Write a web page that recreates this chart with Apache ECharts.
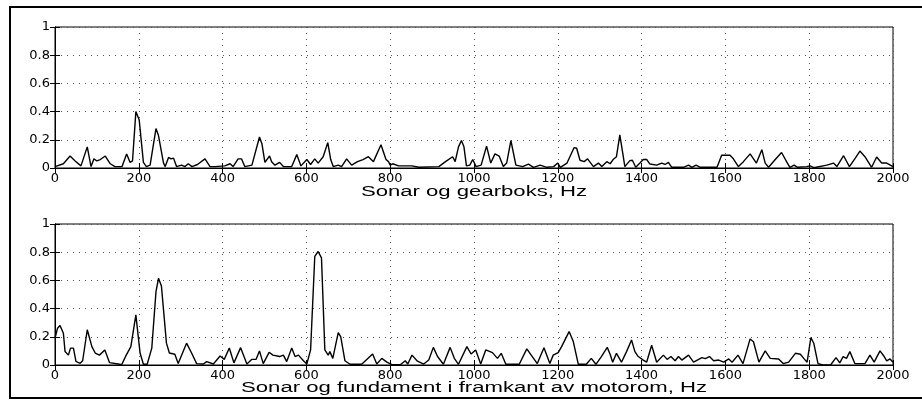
<!DOCTYPE html>
<html>
<head>
<meta charset="utf-8">
<script src="https://cdn.jsdelivr.net/npm/echarts@6/dist/echarts.min.js"></script>
<style>
    html, body { margin: 0; padding: 0; background: #fff; }
    #spectrum { width: 922px; height: 400px; }
</style>
</head>
<body>
<div id="spectrum"></div>
<script>
"use strict";

// top panel: sonar og gearboks
var freqTop = [0, 20, 36, 48, 62, 77, 86, 93, 100, 108, 120, 132, 143, 160, 171, 179, 185, 193, 201, 211,
    218, 227, 241, 247, 259, 263, 271, 277, 283, 290, 302, 310, 318, 327, 340, 358, 370, 382, 405, 418,
    425, 437, 445, 453, 470, 488, 494, 501, 505, 512, 517, 525, 536, 545, 565, 577, 581, 587, 601, 610,
    620, 628, 640, 651, 658, 664, 676, 684, 696, 708, 722, 735, 748, 760, 778, 790, 796, 800, 806, 820,
    852, 868, 916, 932, 949, 955, 963, 970, 976, 982, 990, 997, 1005, 1017, 1030, 1040, 1050, 1060, 1070, 1078,
    1088, 1100, 1116, 1130, 1142, 1158, 1174, 1190, 1200, 1206, 1222, 1239, 1245, 1253, 1263, 1271, 1285, 1297, 1305, 1317,
    1325, 1332, 1340, 1348, 1355, 1360, 1372, 1378, 1386, 1396, 1404, 1412, 1420, 1436, 1448, 1456, 1464, 1472, 1500, 1512,
    1520, 1530, 1540, 1580, 1591, 1611, 1619, 1631, 1643, 1659, 1674, 1687, 1695, 1703, 1719, 1734, 1748, 1754, 1764, 1772,
    1794, 1802, 1811, 1842, 1858, 1866, 1882, 1896, 1910, 1921, 1933, 1949, 1961, 1973, 1985, 2000];
var ampTop = [0.01, 0.03, 0.085, 0.05, 0.015, 0.15, 0.01, 0.065, 0.05, 0.06, 0.085, 0.03, 0.01, 0.01, 0.1, 0.04, 0.05, 0.4, 0.34, 0.04,
    0.01, 0.02, 0.28, 0.23, 0.035, 0.01, 0.075, 0.065, 0.07, 0.01, 0.02, 0.01, 0.03, 0.01, 0.025, 0.065, 0.01, 0.01, 0.015, 0.03,
    0.01, 0.065, 0.065, 0.01, 0.02, 0.22, 0.17, 0.04, 0.04, 0.085, 0.045, 0.02, 0.04, 0.01, 0.01, 0.095, 0.095, 0.015, 0.06, 0.025,
    0.065, 0.035, 0.08, 0.18, 0.06, 0.01, 0.02, 0.01, 0.065, 0.02, 0.045, 0.06, 0.08, 0.045, 0.165, 0.06, 0.045, 0.02, 0.03, 0.015,
    0.015, 0.005, 0.01, 0.045, 0.08, 0.045, 0.15, 0.195, 0.15, 0.015, 0.02, 0.06, 0.01, 0.02, 0.155, 0.035, 0.1, 0.085, 0.01, 0.035,
    0.195, 0.02, 0.01, 0.028, 0.005, 0.02, 0.005, 0.01, 0.035, 0.005, 0.035, 0.145, 0.14, 0.055, 0.045, 0.065, 0.01, 0.035, 0.01, 0.045,
    0.03, 0.06, 0.08, 0.235, 0.105, 0.01, 0.052, 0.055, 0.005, 0.035, 0.06, 0.06, 0.028, 0.02, 0.035, 0.025, 0.04, 0.005, 0.005, 0.02,
    0.005, 0.02, 0.005, 0.005, 0.09, 0.09, 0.065, 0.01, 0.045, 0.1, 0.035, 0.13, 0.035, 0.005, 0.06, 0.11, 0.035, 0.005, 0.02, 0.005,
    0.01, 0.015, 0.002, 0.02, 0.035, 0.01, 0.087, 0.01, 0.07, 0.12, 0.08, 0.005, 0.078, 0.035, 0.035, 0.01];

// bottom panel: sonar og fundament
var freqBottom = [0, 6, 12, 20, 24, 32, 37, 44, 50, 60, 66, 77, 88, 96, 106, 119, 130, 151, 159, 170,
    181, 193, 203, 211, 220, 231, 241, 247, 254, 266, 273, 286, 294, 314, 326, 338, 354, 362, 378, 394,
    404, 416, 427, 443, 458, 470, 480, 488, 497, 511, 520, 536, 545, 553, 565, 573, 581, 593, 601, 610,
    620, 628, 636, 644, 652, 656, 663, 676, 682, 692, 704, 732, 758, 768, 780, 792, 804, 824, 836, 842,
    852, 864, 880, 892, 903, 913, 927, 943, 953, 963, 983, 993, 1004, 1016, 1028, 1044, 1056, 1065, 1076, 1108,
    1126, 1151, 1167, 1181, 1189, 1201, 1209, 1227, 1237, 1249, 1268, 1280, 1291, 1304, 1318, 1325, 1331, 1340, 1352, 1364,
    1376, 1384, 1392, 1404, 1412, 1424, 1436, 1452, 1461, 1470, 1480, 1488, 1496, 1512, 1524, 1544, 1552, 1562, 1572, 1584,
    1596, 1608, 1616, 1630, 1642, 1659, 1667, 1680, 1695, 1707, 1727, 1738, 1751, 1767, 1779, 1787, 1795, 1804, 1811, 1821,
    1833, 1851, 1864, 1873, 1881, 1889, 1897, 1909, 1933, 1945, 1955, 1969, 1979, 1985, 1993, 2000];
var ampBottom = [0.19, 0.26, 0.28, 0.225, 0.095, 0.07, 0.12, 0.12, 0.025, 0.012, 0.03, 0.25, 0.13, 0.085, 0.07, 0.107, 0.017, 0.007, 0.002, 0.07,
    0.13, 0.355, 0.085, 0.005, 0.005, 0.12, 0.52, 0.615, 0.56, 0.155, 0.085, 0.076, 0.01, 0.155, 0.085, 0.01, 0.007, 0.024, 0.007, 0.064,
    0.04, 0.12, 0.015, 0.123, 0.007, 0.04, 0.04, 0.1, 0.01, 0.09, 0.07, 0.06, 0.07, 0.024, 0.12, 0.06, 0.07, 0.03, 0.007, 0.107,
    0.77, 0.805, 0.76, 0.107, 0.07, 0.095, 0.047, 0.23, 0.2, 0.03, 0.005, 0.005, 0.078, 0.007, 0.047, 0.02, 0.002, 0.002, 0.03, 0.007,
    0.07, 0.03, 0.007, 0.035, 0.125, 0.06, 0.005, 0.125, 0.047, 0.005, 0.13, 0.078, 0.107, 0.007, 0.107, 0.088, 0.047, 0.083, 0.005, 0.005,
    0.114, 0.01, 0.123, 0.01, 0.07, 0.088, 0.13, 0.237, 0.166, 0.005, 0.005, 0.047, 0.005, 0.06, 0.125, 0.075, 0.02, 0.083, 0.02, 0.095,
    0.177, 0.095, 0.06, 0.035, 0.02, 0.14, 0.02, 0.07, 0.04, 0.06, 0.03, 0.06, 0.035, 0.07, 0.02, 0.052, 0.045, 0.06, 0.03, 0.035,
    0.02, 0.043, 0.02, 0.07, 0.01, 0.185, 0.165, 0.02, 0.1, 0.047, 0.043, 0.01, 0.02, 0.083, 0.076, 0.047, 0.02, 0.194, 0.154, 0.01,
    0, 0, 0.052, 0.015, 0.06, 0.047, 0.095, 0.01, 0.01, 0.07, 0.02, 0.1, 0.06, 0.03, 0.043, 0.02];

var xTitles = ["Sonar og gearboks, Hz", "Sonar og fundament i framkant av motorom, Hz"];

(function () {
    var chart = echarts.init(document.getElementById("spectrum"), null, {renderer: "canvas"});
    var font = "'DejaVu Sans', sans-serif";
    var gridTops = [27, 224];

    function pairs(freq, amp) {
        return freq.map(function (f, i) {
            return [f, amp[i]];
        });
    }

    var grids = [];
    var xAxes = [];
    var yAxes = [];
    gridTops.forEach(function (top, i) {
        grids.push({left: 55, top: top, width: 838, height: 141, show: true,
            borderColor: "#000", borderWidth: 1, backgroundColor: "#fff"});
        // bottom x axis with labels and dotted grid
        xAxes.push({
            gridIndex: i, type: "value", min: 0, max: 2000, interval: 200,
            axisLine: {lineStyle: {color: "#000", width: 1}},
            axisTick: {inside: true, length: 5, lineStyle: {color: "#000"}},
            axisLabel: {color: "#000", fontFamily: font, fontSize: 13, margin: 4,
                formatter: function (v) { return String(v); }},
            splitLine: {show: true, lineStyle: {color: "#555", width: 1, type: [1, 5]}}
        });
        // top x axis only for the box ticks
        xAxes.push({
            gridIndex: i, type: "value", position: "top", min: 0, max: 2000, interval: 200,
            axisLine: {lineStyle: {color: "#000"}},
            axisTick: {inside: true, length: 5, lineStyle: {color: "#000"}},
            axisLabel: {show: false}, splitLine: {show: false}
        });
        yAxes.push({
            gridIndex: i, type: "value", min: 0, max: 1, interval: 0.2,
            axisLine: {show: true, lineStyle: {color: "#000"}},
            axisTick: {show: true, inside: true, length: 5, lineStyle: {color: "#000"}},
            axisLabel: {color: "#000", fontFamily: font, fontSize: 13, margin: 5},
            splitLine: {show: true, lineStyle: {color: "#555", width: 1, type: [1, 5]}}
        });
        yAxes.push({
            gridIndex: i, type: "value", position: "right", min: 0, max: 1, interval: 0.2,
            axisLine: {show: true, lineStyle: {color: "#000"}},
            axisTick: {show: true, inside: true, length: 5, lineStyle: {color: "#000"}},
            axisLabel: {show: false}, splitLine: {show: false}
        });
    });

    var options = {
        animation: false,
        backgroundColor: "#fff",
        grid: grids,
        xAxis: xAxes,
        yAxis: yAxes,
        series: [{
            name: "gearboks",
            type: "line",
            xAxisIndex: 0, yAxisIndex: 0,
            data: pairs(freqTop, ampTop),
            showSymbol: false,
            lineStyle: {color: "#000", width: 1.4}
        }, {
            name: "fundament",
            type: "line",
            xAxisIndex: 2, yAxisIndex: 2,
            data: pairs(freqBottom, ampBottom),
            showSymbol: false,
            lineStyle: {color: "#000", width: 1.4}
        }],
        graphic: [{
            type: "rect",
            shape: {x: 10, y: 7, width: 925, height: 391},
            style: {fill: null, stroke: "#000", lineWidth: 2},
            silent: true
        }, {
            type: "text", x: 474, y: 192, scaleX: 1.58,
            style: {text: xTitles[0], x: 0, y: 0, align: "center", verticalAlign: "middle",
                fontFamily: "'Liberation Sans', Arial, sans-serif", fontSize: 14, fill: "#000"}
        }, {
            type: "text", x: 474, y: 388, scaleX: 1.58,
            style: {text: xTitles[1], x: 0, y: 0, align: "center", verticalAlign: "middle",
                fontFamily: "'Liberation Sans', Arial, sans-serif", fontSize: 14, fill: "#000"}
        }]
    };

    chart.setOption(options);
})();
</script>
</body>
</html>
